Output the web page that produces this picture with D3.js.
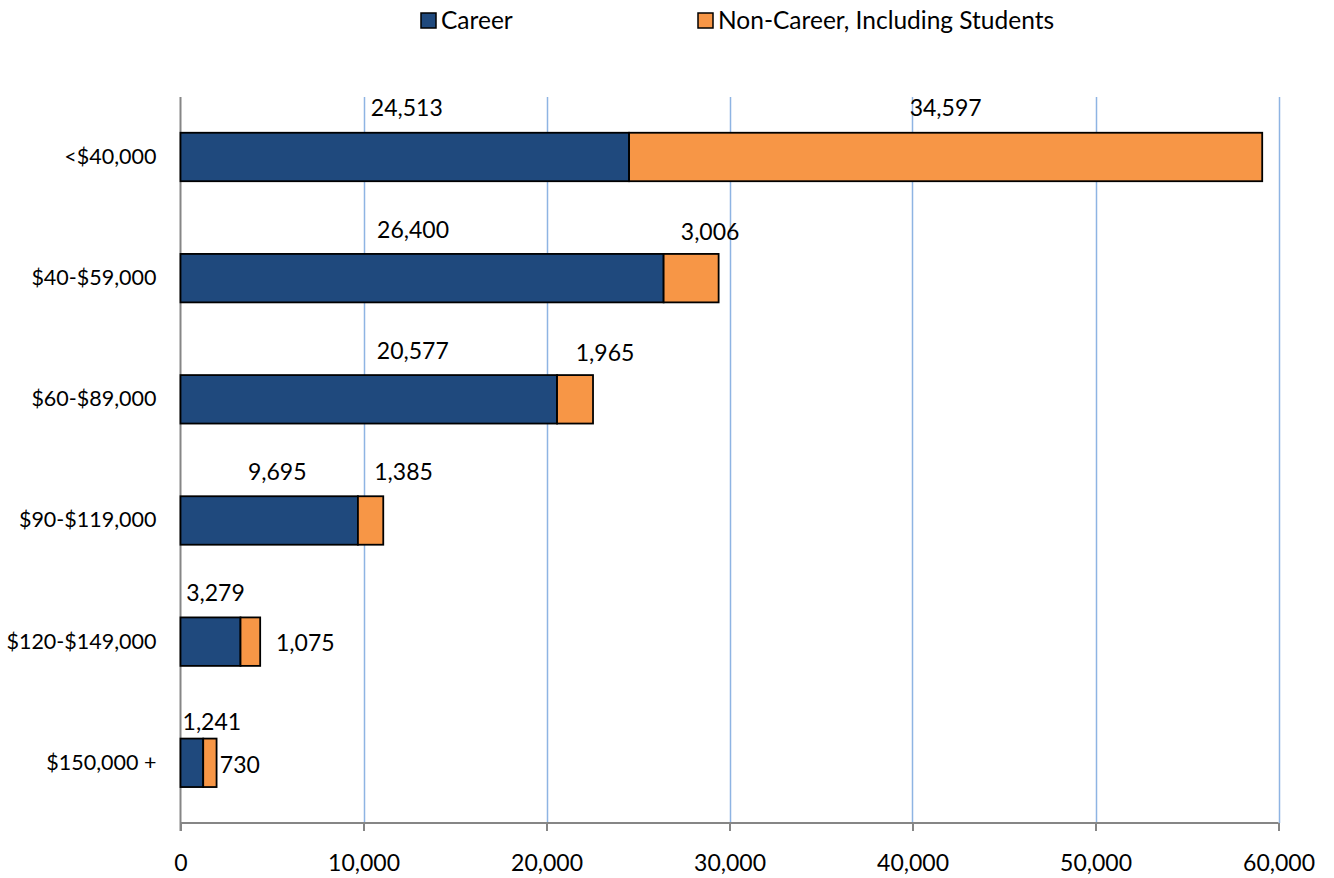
<!DOCTYPE html>
<html>
<head>
<meta charset="utf-8">
<script src="https://cdn.jsdelivr.net/npm/d3@7/dist/d3.min.js"></script>
<style>
  html, body { margin: 0; padding: 0; background: #fff; }
  svg { display: block; font-family: Lato, "Open Sans", sans-serif; }
</style>
</head>
<body>
<svg id="chart" width="1334" height="878"></svg>
<script>
// Salary bands (top to bottom)
const categories = ["<$40,000", "$40-$59,000", "$60-$89,000", "$90-$119,000", "$120-$149,000", "$150,000 +"];
// Series values
const career = [24513, 26400, 20577, 9695, 3279, 1241];
const nonCareer = [34597, 3006, 1965, 1385, 1075, 730];
const seriesNames = ["Career", "Non-Career, Including Students"];
// Axis ticks
const xTicks = [0, 10000, 20000, 30000, 40000, 50000, 60000];

// Hand-placed value label offsets (px) from each segment centre / band centre
const careerLabelOffset = [[2, -49], [-9, -48], [44, -49], [8, -49], [5, -49], [20, -41]];
const nonCareerLabelOffset = [[0, -49], [19, -46], [30, -47], [33, -49], [55, 1], [30, 2]];

const colors = { career: "#1F497D", nonCareer: "#F79646" };
const gridColor = "#8EB4E3";
const axisColor = "#868686";

const svg = d3.select("#chart");
const fmt = d3.format(",");

const x = d3.scaleLinear().domain([0, 60000]).range([180.5, 1278.5]);
const y = d3.scaleBand().domain(categories).range([96.4, 823.4])
  .paddingInner(0.6).paddingOuter(0.3);

const plotTop = 97, plotBottom = 823;

// Vertical gridlines
svg.append("g").selectAll("line")
  .data(xTicks.filter(d => d > 0))
  .join("line")
  .attr("x1", d => Math.round(x(d)) + 0.5).attr("x2", d => Math.round(x(d)) + 0.5)
  .attr("y1", plotTop).attr("y2", plotBottom)
  .attr("stroke", gridColor).attr("stroke-width", 1.5);

// Bottom axis
const xAxis = svg.append("g")
  .attr("transform", `translate(0,${plotBottom})`)
  .call(d3.axisBottom(x).tickValues(xTicks).tickFormat(fmt).tickSize(8).tickPadding(24));
xAxis.select(".domain").attr("stroke", axisColor).attr("stroke-width", 2)
  .attr("d", `M${x(0)},0H${x(60000)}`);
xAxis.selectAll(".tick line").attr("stroke", axisColor).attr("stroke-width", 2);
xAxis.selectAll(".tick text").attr("font-size", 23).attr("fill", "#000")
  .attr("font-family", "Lato, 'Open Sans', sans-serif");

// Left axis
const yAxis = svg.append("g")
  .attr("transform", `translate(${x(0)},0)`)
  .call(d3.axisLeft(y).tickSize(0).tickPadding(24));
yAxis.select(".domain").attr("stroke", axisColor).attr("stroke-width", 2)
  .attr("d", `M0,${plotTop}V${plotBottom + 8}`);
yAxis.selectAll(".tick text").attr("font-size", 21.5).attr("fill", "#000")
  .attr("font-family", "Lato, 'Open Sans', sans-serif");

// Stacked bars
const rows = categories.map((c, i) => ({ cat: c, career: career[i], nonCareer: nonCareer[i], i }));

svg.append("g").selectAll("rect.career")
  .data(rows).join("rect")
  .attr("x", x(0))
  .attr("y", d => y(d.cat))
  .attr("width", d => x(d.career) - x(0))
  .attr("height", y.bandwidth())
  .attr("fill", colors.career)
  .attr("stroke", "#000").attr("stroke-width", 1.8);

svg.append("g").selectAll("rect.noncareer")
  .data(rows).join("rect")
  .attr("x", d => x(d.career))
  .attr("y", d => y(d.cat))
  .attr("width", d => x(d.career + d.nonCareer) - x(d.career))
  .attr("height", y.bandwidth())
  .attr("fill", colors.nonCareer)
  .attr("stroke", "#000").attr("stroke-width", 1.8);

// Value labels
const labels = svg.append("g").attr("font-size", 23).attr("fill", "#000");
rows.forEach(d => {
  const cy = y(d.cat) + y.bandwidth() / 2;
  const c1 = (x(0) + x(d.career)) / 2;
  const c2 = (x(d.career) + x(d.career + d.nonCareer)) / 2;
  const o1 = careerLabelOffset[d.i], o2 = nonCareerLabelOffset[d.i];
  labels.append("text")
    .attr("x", c1 + o1[0]).attr("y", cy + o1[1]).attr("dy", "0.36em")
    .attr("text-anchor", "middle").text(fmt(d.career));
  labels.append("text")
    .attr("x", c2 + o2[0]).attr("y", cy + o2[1]).attr("dy", "0.36em")
    .attr("text-anchor", "middle").text(fmt(d.nonCareer));
});

// Legend
const legendX = [420, 697];
const legend = svg.append("g");
seriesNames.forEach((name, i) => {
  legend.append("rect")
    .attr("x", legendX[i] + 1).attr("y", 13).attr("width", 15).attr("height", 15)
    .attr("fill", i === 0 ? colors.career : colors.nonCareer)
    .attr("stroke", "#000").attr("stroke-width", 1.5);
  legend.append("text")
    .attr("x", legendX[i] + 21).attr("y", 20.5).attr("dy", "0.36em")
    .attr("font-size", 24.5).attr("fill", "#000").text(name);
});
</script>
</body>
</html>
